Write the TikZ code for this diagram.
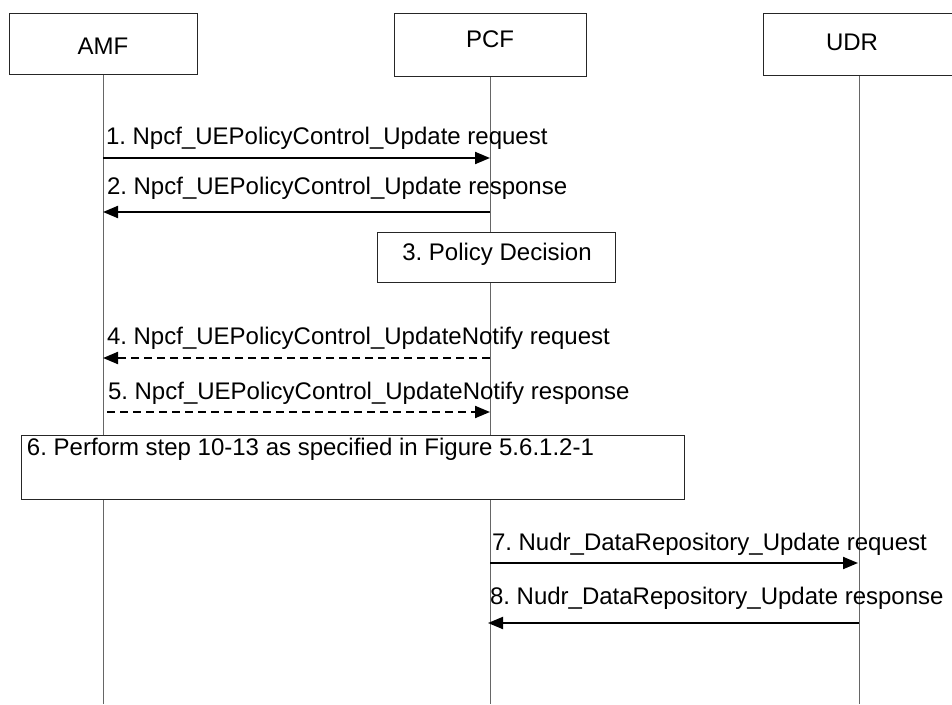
\documentclass[tikz,border=0pt]{standalone}
\usepackage{fontspec}
\setmainfont{Liberation Sans}
\usetikzlibrary{arrows.meta}
\begin{document}
\frenchspacing
\begin{tikzpicture}[x=1pt,y=-1pt,
  every node/.style={font=\fontsize{24}{28}\selectfont, inner sep=0pt, outer sep=0pt},
  actorbox/.style={draw=black!85, line width=1pt, fill=white, rectangle},
  stepbox/.style={draw=black!85, line width=1pt, fill=white, rectangle},
  lifeline/.style={draw=black!60, line width=1pt},
  msg/.style={draw=black, line width=2pt, -{Triangle[length=15pt,width=12pt]}},
  dmsg/.style={msg, dash pattern=on 8pt off 5pt},
  lbl/.style={anchor=west}
]
\useasboundingbox (0,0) rectangle (952,704);
\fill[white] (0,0) rectangle (952,704);

% lifelines
\coordinate (amfB) at (103,704);
\coordinate (pcfB) at (490,704);
\coordinate (udrB) at (859,704);
\coordinate (amfT) at (103,74);
\coordinate (pcfT) at (490,76);
\coordinate (udrT) at (859,75);
\draw[lifeline] (amfT) -- (amfB);
\draw[lifeline] (pcfT) -- (pcfB);
\draw[lifeline] (udrT) -- (udrB);

% actor boxes
\node[actorbox, minimum width=188pt, minimum height=61pt] (amf) at (103,43.5) {};
\node at (103,46) (amft) {AMF};
\node[actorbox, minimum width=192pt, minimum height=63pt] (pcf) at (490,44.5) {};
\node at (490,39) (pcft) {PCF};
\node[actorbox, minimum width=200pt, minimum height=62pt] (udr) at (863,44) {};
\node at (852,42) (udrt) {UDR};

% message 1
\coordinate (a1) at (103,158);
\coordinate (p1) at (490,158);
\draw[msg] (a1) -- (p1);
\node[lbl] (l1) at (106,138) {1. Npcf\_UEPolicyControl\_Update request};

% message 2
\coordinate (p2) at (490,212);
\coordinate (a2) at (103,212);
\draw[msg] (p2) -- (a2);
\node[lbl] (l2) at (107,188) {2. Npcf\_UEPolicyControl\_Update response};

% step 3
\node[stepbox, minimum width=238pt, minimum height=50pt] (s3) at (496,257) {};
\node (s3t) at (497,254) {3. Policy Decision};

% message 4
\coordinate (p4) at (490,358);
\coordinate (a4) at (103,358);
\draw[dmsg] (p4) -- (a4);
\node[lbl] (l4) at (107,338) {4. Npcf\_UEPolicyControl\_UpdateNotify request};

% message 5
\coordinate (a5) at (107,412);
\coordinate (p5) at (490,412);
\draw[dmsg] (a5) -- (p5);
\node[lbl] (l5) at (108,393) {5. Npcf\_UEPolicyControl\_UpdateNotify response};

% step 6
\node[stepbox, minimum width=663pt, minimum height=64pt] (s6) at (352.5,467) {};
\node[lbl] (s6t) at (27,449) {6. Perform step 10-13 as specified in Figure 5.6.1.2-1};

% message 7
\coordinate (p7) at (490,563);
\coordinate (u7) at (858,563);
\draw[msg] (p7) -- (u7);
\node[lbl] (l7) at (492,544) {7. Nudr\_DataRepository\_Update request};

% message 8
\coordinate (u8) at (859,623);
\coordinate (p8) at (488,623);
\draw[msg] (u8) -- (p8);
\node[lbl] (l8) at (490,598) {8. Nudr\_DataRepository\_Update response};
\end{tikzpicture}
\end{document}
